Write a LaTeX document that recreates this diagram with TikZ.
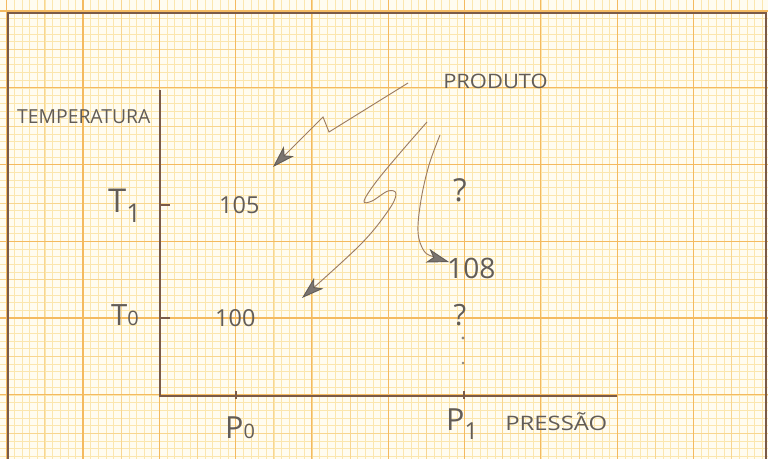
\documentclass[tikz,border=0pt]{standalone}
\usepackage{fontspec}
\setmainfont{Open Sans}
\usetikzlibrary{arrows.meta}
\definecolor{paper}{HTML}{FFFCF0}
\definecolor{gminor}{HTML}{FBE6AE}
\definecolor{gmid}{HTML}{F8D690}
\definecolor{gmajor}{HTML}{F4BA60}
\definecolor{frame}{HTML}{7A5A48}
\definecolor{pencil}{HTML}{625C57}
\definecolor{pline}{HTML}{9C7C62}
\tikzset{
  lbl/.style={text=pencil, inner sep=0pt, anchor=center},
  axisline/.style={draw=frame, line width=1.6pt},
  pencilarrow/.style={draw=pline, line width=0.8pt,
    -{Stealth[length=19pt, width=12pt, inset=5pt, color=pencil, fill=pencil!85]}},
  tickline/.style={draw=frame, line width=1.2pt},
  pdot/.style={fill=pencil!75, draw=none}
}
\begin{document}
\begin{tikzpicture}[x=0.03cm, y=-0.03cm]
\useasboundingbox (0,0) rectangle (768,459);
\fill[paper] (0,0) rectangle (768,459);
% graph paper
\foreach \i in {0,...,101} {\draw[gminor, line width=0.4pt] ({6.7+7.63*\i},0) -- ({6.7+7.63*\i},459);}
\foreach \i in {0,...,60} {\draw[gminor, line width=0.4pt] (0,{11+7.675*\i}) -- (768,{11+7.675*\i});}
\foreach \i in {0,...,20} {\draw[gmid, line width=0.6pt] ({6.7+38.15*\i},0) -- ({6.7+38.15*\i},459);}
\foreach \i in {0,...,12} {\draw[gmid, line width=0.6pt] (0,{11+38.375*\i}) -- (768,{11+38.375*\i});}
\foreach \i in {0,...,10} {\draw[gmajor, line width=0.9pt] ({6.7+76.3*\i},0) -- ({6.7+76.3*\i},459);}
\foreach \i in {0,...,6} {\draw[gmajor, line width=0.9pt] (0,{11+76.75*\i}) -- (768,{11+76.75*\i});}
% frame
\draw[frame, line width=1.3pt] (8,459) -- (8,13) -- (766,13) -- (766,459);
% axes
\coordinate (ytop) at (160,90);
\coordinate (orig) at (160,396);
\coordinate (xend) at (617,396);
\draw[axisline] (ytop) -- (orig) -- (xend);
% ticks
\coordinate (t1a) at (160,205); \coordinate (t1b) at (170,205);
\coordinate (t0a) at (160,318); \coordinate (t0b) at (170,318);
\coordinate (p0a) at (236,391); \coordinate (p0b) at (236,399);
\coordinate (p1a) at (464,391); \coordinate (p1b) at (464,399);
\draw[tickline] (t1a) -- (t1b);
\draw[tickline] (t0a) -- (t0b);
\draw[tickline] (p0a) -- (p0b);
\draw[tickline] (p1a) -- (p1b);
% labels
\node[lbl, font=\fontsize{16.5}{16.5}\selectfont, anchor=base west] (temp) at (17,124) {TEMPERATURA};
\node[lbl, font=\fontsize{28}{28}\selectfont, anchor=base west] (T1) at (108,213) {T\raisebox{-8pt}{\fontsize{22}{22}\selectfont 1}};
\node[lbl, font=\fontsize{25}{25}\selectfont, anchor=base west] (T0) at (111,325) {T{\fontsize{17}{17}\selectfont 0}};
\node[lbl, font=\fontsize{20}{20}\selectfont, anchor=base west] (v105) at (219,214) {105};
\node[lbl, font=\fontsize{20}{20}\selectfont, anchor=base west] (v100) at (215,326) {100};
\node[lbl, font=\fontsize{24}{24}\selectfont, anchor=base west] (v108) at (447,278) {108};
\node[lbl, font=\fontsize{26}{26}\selectfont, anchor=base west] (P0) at (225,438) {P{\fontsize{17}{17}\selectfont 0}};
\node[lbl, font=\fontsize{26}{26}\selectfont, anchor=base west] (P1) at (446,430) {P\raisebox{-8pt}{\fontsize{20}{20}\selectfont 1}};
\node[lbl, font=\fontsize{17}{17}\selectfont, anchor=base west, xscale=1.2] (pres) at (505,430) {PRESSÃO};
\node[lbl, font=\fontsize{17}{17}\selectfont, anchor=base west, xscale=1.1] (prod) at (443,89) {PRODUTO};
\node[lbl, font=\fontsize{27}{27}\selectfont] (q1) at (460,190) {?};
\node[lbl, font=\fontsize{25}{25}\selectfont] (q2) at (460,315) {?};
% dotted guide
\coordinate (d1) at (463,338);
\coordinate (d2) at (463,363);
\fill[pdot] (d1) circle (1.6);
\fill[pdot] (d2) circle (1.3);
% arrows
\coordinate (a1s) at (408,83);
\coordinate (a1z1) at (329,132);
\coordinate (a1z2) at (323,117);
\coordinate (a1e) at (273,167);
\draw[pencilarrow] (a1s) -- (a1z1) -- (a1z2) -- (a1e);
\coordinate (a2s) at (427,122);
\coordinate (a2e) at (302,298);
\draw[pencilarrow] plot[smooth, tension=0.6] coordinates {(427,122) (400,153) (376,182) (364,201) (372,201) (388,191) (396,194) (388,211) (360,245) (302,298)};
\coordinate (a3s) at (440,135);
\coordinate (a3e) at (449,262);
\draw[pencilarrow] plot[smooth, tension=0.6] coordinates {(440,135) (429,165) (421,200) (418,232) (424,251) (434,257) (449,262)};
\end{tikzpicture}
\end{document}
